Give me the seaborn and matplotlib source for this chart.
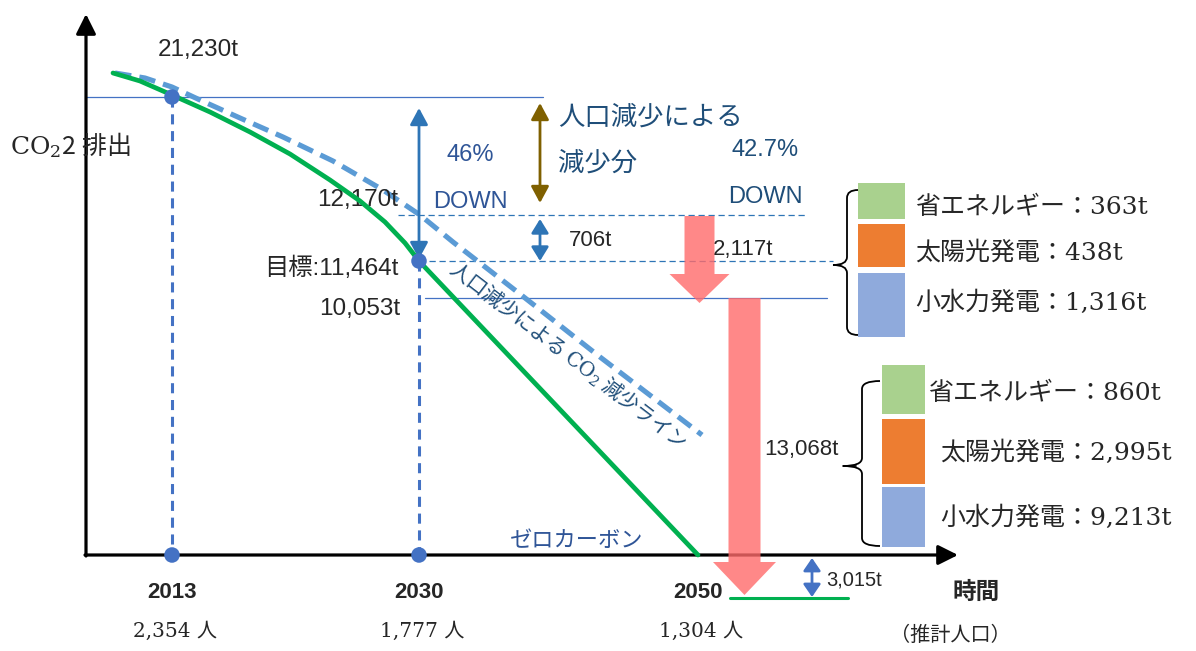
import matplotlib
matplotlib.use("Agg")
import matplotlib.pyplot as plt
from matplotlib.patches import FancyArrow, Rectangle, PathPatch
from matplotlib.path import Path
import seaborn as sns

# ---- values shown on the chart ----
years = [2013, 2030, 2050]
population = [2354, 1777, 1304]
emission_2013 = 21230
pop_line_2030 = 12170
target_2030 = 11464
plan_2030 = 10053
gap_2030 = 706
cut_2030 = 2117
cut_2050 = 13068
remaining_2050 = 3015
pct_total = 46
pct_pop = 42.7
measures = ["省エネルギー", "太陽光発電", "小水力発電"]
cuts_2030 = [363, 438, 1316]
cuts_2050 = [860, 2995, 9213]

# emission paths on the schematic canvas (x, y in canvas units)
target_x = [113, 140, 172, 210, 250, 290, 330, 360, 385, 405, 419, 698]
target_y = [73, 81, 95, 112, 132, 154, 180, 201, 222, 243, 261, 555]
pop_x = [115, 145, 172, 200, 240, 283, 333, 383, 420, 453, 520, 600, 702]
pop_y = [73, 78, 87, 100, 118, 137, 161, 190, 215, 242, 294, 357, 435]

# ---- layout of the schematic ----
year_x = {2013: 172, 2030: 419, 2050: 698}
level_y = {emission_2013: 97, pop_line_2030: 215, target_2030: 261,
           plan_2030: 298, 0: 555}
AXIS_X0, AXIS_Y0, AXIS_XEND, AXIS_YEND = 86, 555, 958, 14

sns.set_theme(style="white")
NARROW = ["Liberation Sans Narrow", "Liberation Sans", "Noto Sans CJK JP"]
GOTHIC = ["Noto Sans CJK JP", "DejaVu Sans"]
SERIF = ["DejaVu Serif", "Noto Sans CJK JP"]
plt.rcParams["font.family"] = NARROW
plt.rcParams["mathtext.fontset"] = "dejavuserif"

fig = plt.figure(figsize=(11.96, 6.51), dpi=100)
ax = fig.add_axes([0, 0, 1, 1])
ax.set_xlim(0, 1196)
ax.set_ylim(651, 0)
ax.axis("off")

BLUE = "#4472C4"
MID = "#2E75B6"
TXT_BLUE = "#2F5597"
NAVY = "#1F4E79"
GREEN = "#00B050"


def darrow(x, y0, y1, color, lw=2.0, hl=0.5, hw=0.27):
    ax.annotate("", xy=(x, y1), xytext=(x, y0),
                arrowprops=dict(arrowstyle=f"<|-|>,head_length={hl},head_width={hw}",
                                color=color, lw=lw, shrinkA=0, shrinkB=0,
                                mutation_scale=20))


def brace(x_tip, x_mid, x_right, y_top, y_mid, y_bot, r=8):
    verts = [(x_right, y_top), (x_mid, y_top), (x_mid, y_top + r),
             (x_mid, y_mid - r),
             (x_mid, y_mid), (x_tip, y_mid),
             (x_mid, y_mid), (x_mid, y_mid + r),
             (x_mid, y_bot - r),
             (x_mid, y_bot), (x_right, y_bot)]
    codes = [Path.MOVETO, Path.CURVE3, Path.CURVE3, Path.LINETO,
             Path.CURVE3, Path.CURVE3, Path.CURVE3, Path.CURVE3,
             Path.LINETO, Path.CURVE3, Path.CURVE3]
    ax.add_patch(PathPatch(Path(verts, codes), fill=False, lw=1.3, ec="black"))


# axes arrows
ax.annotate("", xy=(AXIS_X0, AXIS_YEND), xytext=(AXIS_X0, AXIS_Y0 + 1),
            arrowprops=dict(arrowstyle="-|>,head_length=0.6,head_width=0.3",
                            color="black", lw=2.3, shrinkA=0, shrinkB=0, mutation_scale=20))
ax.annotate("", xy=(AXIS_XEND, AXIS_Y0), xytext=(AXIS_X0 - 1, AXIS_Y0),
            arrowprops=dict(arrowstyle="-|>,head_length=0.6,head_width=0.3",
                            color="black", lw=2.3, shrinkA=0, shrinkB=0, mutation_scale=20))

# reference levels
y21 = level_y[emission_2013]
y12 = level_y[pop_line_2030]
y11 = level_y[target_2030]
y10 = level_y[plan_2030]
ax.plot([AXIS_X0, 543], [y21, y21], color=BLUE, lw=0.9)
ax.plot([425, 827], [y10, y10], color=BLUE, lw=0.9)
ax.plot([398, 805], [y12, y12], color=MID, lw=0.9, ls=(0, (5, 3)))
ax.plot([419, 833], [y11, y11], color=MID, lw=0.9, ls=(0, (5, 3)))

# year drop lines
for yr, lvl in [(2013, emission_2013), (2030, target_2030)]:
    ax.plot([year_x[yr]] * 2, [level_y[lvl], AXIS_Y0], color=BLUE, lw=2.2,
            ls=(0, (3.3, 2.2)), zorder=2)

# emission paths
sns.lineplot(x=pop_x, y=pop_y, ax=ax, color="#5B9BD5", lw=3.7, sort=False,
             estimator=None, linestyle=(0, (3.2, 1.6)), zorder=3)
sns.lineplot(x=target_x, y=target_y, ax=ax, color=GREEN, lw=3.4, sort=False,
             estimator=None, zorder=4)

# marker dots
dot_x = [year_x[2013], year_x[2013], year_x[2030], year_x[2030]]
dot_y = [level_y[emission_2013], AXIS_Y0, level_y[target_2030], AXIS_Y0]
sns.scatterplot(x=dot_x, y=dot_y, ax=ax, s=125, color=BLUE, edgecolor="none", zorder=5)

# double arrows
darrow(year_x[2030], y11 - 2, 108, MID)
darrow(540, 203, 103, "#7F6000")
darrow(540, y11, 219, MID, hl=0.42, hw=0.26)
darrow(812, 597, 558, BLUE, hl=0.38, hw=0.26)

# 2050 residual line
ax.plot([730, 848], [598, 598], color=GREEN, lw=2.2)

# reduction arrows
PINK = "#FF6B6B"
ax.add_patch(FancyArrow(699.5, y12 + 1, 0, 87, width=30, head_width=60,
                        head_length=29, length_includes_head=True,
                        color=PINK, alpha=0.8, lw=0, zorder=6))
ax.add_patch(FancyArrow(744.5, y10, 0, 297, width=32, head_width=63,
                        head_length=33, length_includes_head=True,
                        color=PINK, alpha=0.8, lw=0, zorder=6))

# measure boxes
BOX_COLORS = ["#A9D18E", "#ED7D31", "#8FAADC"]
box1 = [(183, 219), (224, 267), (273, 337)]
box2 = [(365, 414), (419, 484), (487, 547)]
for (t, b), c in zip(box1, BOX_COLORS):
    ax.add_patch(Rectangle((858, t), 47, b - t, color=c, lw=0))
for (t, b), c in zip(box2, BOX_COLORS):
    ax.add_patch(Rectangle((882, t), 43, b - t, color=c, lw=0))
brace(833, 847, 858, 190, 265, 335)
brace(843, 862, 880, 381, 466, 546)

lab1_pos = [(915, 207), (915, 253), (915, 303)]
lab2_pos = [(928, 393), (940, 453), (940, 518)]
for name, v, (x, y) in zip(measures, cuts_2030, lab1_pos):
    ax.text(x, y, f"{name}：{v:,}t", family=SERIF, fontsize=18, va="center", ha="left")
for name, v, (x, y) in zip(measures, cuts_2050, lab2_pos):
    ax.text(x, y, f"{name}：{v:,}t", family=SERIF, fontsize=18, va="center", ha="left")

# value labels
ax.text(158, 50, f"{emission_2013:,}t", fontsize=17.5, va="center", ha="left")
ax.text(398, 200, f"{pop_line_2030:,}t", fontsize=17.5, va="center", ha="right")
ax.text(398, 268, f"目標:{target_2030:,}t", fontsize=17.5, va="center", ha="right")
ax.text(400, 309, f"{plan_2030:,}t", fontsize=17.5, va="center", ha="right")
ax.text(569, 241, f"{gap_2030}t", fontsize=16, va="center", ha="left")
ax.text(713, 249, f"{cut_2030:,}t", fontsize=16, va="center", ha="left")
ax.text(764, 449, f"{cut_2050:,}t", fontsize=16, va="center", ha="left")
ax.plot([843, 856], [466, 466], color="black", lw=1.2)
ax.text(826, 580, f"{remaining_2050:,}t", fontsize=14.5, va="center", ha="left")

ax.text(470, 155, f"{pct_total}%", fontsize=17, color=TXT_BLUE, va="center", ha="center")
ax.text(470, 202, "DOWN", fontsize=17, color=TXT_BLUE, va="center", ha="center")
ax.text(765, 150, f"{pct_pop}%", fontsize=17, color=NAVY, va="center", ha="center")
ax.text(765, 197, "DOWN", fontsize=17, color=NAVY, va="center", ha="center")
ax.text(558, 117, "人口減少による", family=GOTHIC, fontsize=19, color=NAVY,
        va="center", ha="left")
ax.text(558, 163, "減少分", family=GOTHIC, fontsize=19, color=NAVY,
        va="center", ha="left")
ax.text(510, 540, "ゼロカーボン", family=GOTHIC, fontsize=16, color=TXT_BLUE,
        va="center", ha="left")
ax.text(452, 266, "人口減少による $\\mathrm{CO_2}$ 減少ライン", family=GOTHIC,
        fontsize=14.5, color=NAVY, rotation=-37.5, rotation_mode="anchor",
        va="center", ha="left")

# axis titles
ax.text(10, 145, "$\\mathrm{CO_2}$2 排出", family=GOTHIC, fontsize=18,
        va="center", ha="left")
ax.text(976, 592, "時間", family=GOTHIC, fontsize=17, fontweight="bold",
        va="center", ha="center")

# years and estimated population
for yr, pop in zip(years, population):
    ax.text(year_x[yr], 593, str(yr), fontsize=16, fontweight="bold",
            va="center", ha="center")
    ax.text(year_x[yr] + 3, 631, f"{pop:,} 人", family=SERIF, fontsize=14.5,
            va="center", ha="center")
ax.text(950, 635, "（推計人口）", family=SERIF, fontsize=14.5, va="center", ha="center")

fig.savefig("out.png", dpi=100)
